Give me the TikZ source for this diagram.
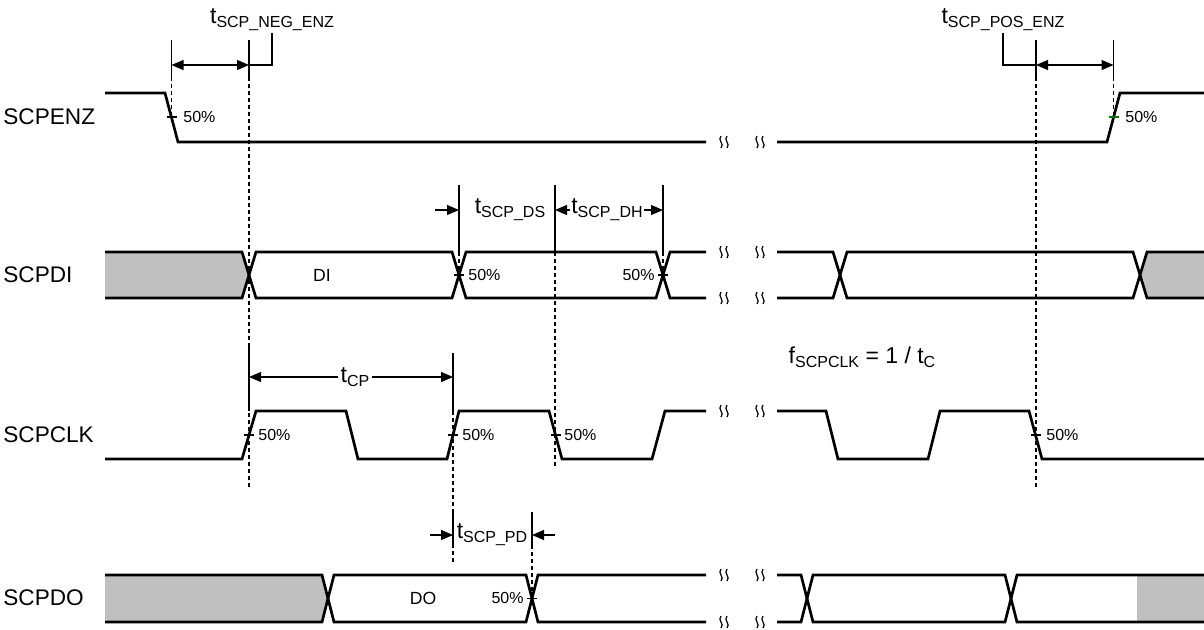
\documentclass[tikz,border=0pt]{standalone}
\usepackage{fontspec}
\setmainfont{Liberation Sans}
\usetikzlibrary{arrows.meta}
\definecolor{greyfill}{RGB}{192,192,192}
\definecolor{tickgreen}{RGB}{0,120,0}
\newcommand\tlab[2]{#1\raisebox{-0.35ex}{\fontsize{8}{9}\selectfont #2}}
\tikzset{
  sig/.style={line width=1.35pt, line join=miter},
  dim/.style={line width=0.6pt},
  dsh/.style={line width=0.55pt, dash pattern=on 2pt off 1.5pt},
  arr/.style={line width=0.6pt, -{Triangle[length=6pt,width=5pt]}},
  darr/.style={line width=0.6pt, {Triangle[length=6pt,width=5pt]}-{Triangle[length=6pt,width=5pt]}},
  signame/.style={anchor=west, inner sep=0pt, font=\fontsize{11.3}{13}\selectfont},
  small/.style={inner sep=0pt, font=\fontsize{8}{9}\selectfont},
  mid/.style={inner sep=0pt, font=\fontsize{8.8}{10}\selectfont},
  tl/.style={inner sep=1pt, font=\fontsize{11.5}{13}\selectfont},
  brkmark/.pic={
    \draw[line width=0.6pt] (-3,-6) .. controls (-7,-2) and (1,2) .. (-3,6);
    \draw[line width=0.6pt] (3,-6) .. controls (-1,-2) and (7,2) .. (3,6);
  }
}
\begin{document}
\begin{tikzpicture}[x=0.5pt,y=-0.5pt]
\useasboundingbox (0,0) rectangle (1204,629);

% ---------- signal names
\node[signame] (nENZ) at (3,117) {SCPENZ};
\node[signame] (nDI) at (3,275) {SCPDI};
\node[signame] (nCLK) at (3,435) {SCPCLK};
\node[signame] (nDO) at (3,598) {SCPDO};

% ---------- shaded areas
\fill[greyfill] (105,252) -- (242,252) -- (249,275) -- (242,298) -- (105,298) -- cycle;
\fill[greyfill] (1140,275) -- (1147,252) -- (1204,252) -- (1204,298) -- (1147,298) -- cycle;
\fill[greyfill] (105,575) -- (322,575) -- (328,598.5) -- (322,622) -- (105,622) -- cycle;
\fill[greyfill] (1137,575) rectangle (1204,622);

% ---------- dashed guide lines
\draw[dsh] (171.5,77) -- (171.5,117);
\draw[dsh] (249,77) -- (249,487);
\draw[dsh] (1036,77) -- (1036,487);
\draw[dsh] (1113.5,77) -- (1113.5,117);
\draw[dsh] (459,252) -- (459,275);
\draw[dsh] (555,252) -- (555,467);
\draw[dsh] (663,252) -- (663,275);
\draw[dsh] (453,411) -- (453,565);
\draw[dsh] (532,545) -- (532,598);

% ---------- SCPENZ
\draw[sig] (105,93) -- (165,93) -- (178,142) -- (706,142);
\draw[sig] (777,142) -- (1107,142) -- (1120,93) -- (1204,93);
\draw[dim] (166.5,117) -- (176.5,117);
\node[small, anchor=west] (p1) at (183,117) {50\%};
\draw[dim, tickgreen] (1108.5,117) -- (1118.5,117);
\node[small, anchor=west] (p2) at (1125,117) {50\%};

% ---------- SCPDI
\draw[sig] (105,252) -- (242,252) -- (256,298) -- (452,298) -- (466,252) -- (656,252) -- (670,298) -- (706,298);
\draw[sig] (105,298) -- (242,298) -- (256,252) -- (452,252) -- (466,298) -- (656,298) -- (670,252) -- (706,252);
\draw[sig] (777,252) -- (833,252) -- (847,298) -- (1133,298) -- (1147,252) -- (1204,252);
\draw[sig] (777,298) -- (833,298) -- (847,252) -- (1133,252) -- (1147,298) -- (1204,298);
\node[mid] (di) at (322,275) {DI};
\draw[dim] (454,275) -- (464,275);
\node[small, anchor=west] (p3) at (468,275) {50\%};
\draw[dim] (658,275) -- (668,275);
\node[small, anchor=east] (p4) at (655,275) {50\%};

% ---------- SCPCLK
\draw[sig] (105,459) -- (242,459) -- (256,411) -- (346,411) -- (358,459) -- (447,459) -- (459,411) -- (549,411) -- (562,459) -- (652,459) -- (665,411) -- (706,411);
\draw[sig] (777,411) -- (826,411) -- (838,459) -- (928,459) -- (940,411) -- (1029,411) -- (1042,459) -- (1204,459);
\draw[dim] (244,435) -- (254,435);
\node[small, anchor=west] (p5) at (258,435) {50\%};
\draw[dim] (448,435) -- (458,435);
\node[small, anchor=west] (p6) at (462,435) {50\%};
\draw[dim] (550.5,435) -- (560.5,435);
\node[small, anchor=west] (p7) at (564,435) {50\%};
\draw[dim] (1030.5,435) -- (1040.5,435);
\node[small, anchor=west] (p8) at (1046,435) {50\%};

% ---------- SCPDO
\draw[sig] (105,575) -- (322,575) -- (334,622) -- (526,622) -- (538,575) -- (706,575);
\draw[sig] (105,622) -- (322,622) -- (334,575) -- (526,575) -- (538,622) -- (706,622);
\draw[sig] (777,575) -- (801,575) -- (813,622) -- (1005,622) -- (1017,575) -- (1204,575);
\draw[sig] (777,622) -- (801,622) -- (813,575) -- (1005,575) -- (1017,622) -- (1204,622);
\node[mid] (do) at (423,598) {DO};
\draw[dim] (527,598.5) -- (537,598.5);
\node[small, anchor=east] (p9) at (524,598) {50\%};

% ---------- break marks
\foreach \yy in {142,252,298,411,575,622}{
  \pic at (724,\yy) {brkmark};
  \pic at (760,\yy) {brkmark};
}

% ---------- t_SCP_NEG_ENZ
\coordinate (a1) at (171.5,65);
\coordinate (a2) at (249,65);
\draw[dim] (171.5,40) -- (171.5,77);
\draw[dim] (249,40) -- (249,77);
\draw[darr] (a1) -- (a2);
\node[tl] (tneg) at (272,20) {\tlab{t}{SCP\_NEG\_ENZ}};
\draw[dim] (a2) -- (272,65) -- (272,33);

% ---------- t_SCP_POS_ENZ
\coordinate (b1) at (1036,65);
\coordinate (b2) at (1113.5,65);
\draw[dim] (1036,40) -- (1036,77);
\draw[dim] (1113.5,40) -- (1113.5,77);
\draw[darr] (b1) -- (b2);
\node[tl] (tpos) at (1003,20) {\tlab{t}{SCP\_POS\_ENZ}};
\draw[dim] (1003,33) -- (1003,65) -- (b1);

% ---------- t_SCP_DS / t_SCP_DH
\draw[dim] (459,185) -- (459,252);
\draw[dim] (555,185) -- (555,252);
\draw[dim] (663,185) -- (663,252);
\coordinate (c0) at (435,210);
\coordinate (c1) at (459,210);
\coordinate (c2) at (555,210);
\coordinate (c3) at (663,210);
\draw[arr] (c0) -- (c1);
\node[tl] (tds) at (510,210) {\tlab{t}{SCP\_DS}};
\draw[darr] (c2) -- (c3);
\node[tl, fill=white, inner sep=0.5pt] (tdh) at (607,210) {\tlab{t}{SCP\_DH}};

% ---------- t_CP
\draw[dim] (249,347) -- (249,411);
\draw[dim] (453,353) -- (453,411);
\coordinate (d1) at (249,377);
\coordinate (d2) at (453,377);
\draw[darr] (d1) -- (d2);
\node[tl, fill=white, inner sep=1.5pt] (tcp) at (355,377) {\tlab{t}{CP}};

% ---------- f_SCPCLK
\node[tl] (fclk) at (862,357) {\tlab{f}{SCPCLK} = 1 / \tlab{t}{C}};

% ---------- t_SCP_PD
\draw[dim] (453,512) -- (453,545);
\draw[dim] (532,512) -- (532,545);
\coordinate (e0) at (430,535);
\coordinate (e1) at (453,535);
\coordinate (e2) at (532,535);
\coordinate (e3) at (555,535);
\draw[arr] (e0) -- (e1);
\draw[arr] (e3) -- (e2);
\node[tl] (tpd) at (492,535) {\tlab{t}{SCP\_PD}};
\end{tikzpicture}
\end{document}
